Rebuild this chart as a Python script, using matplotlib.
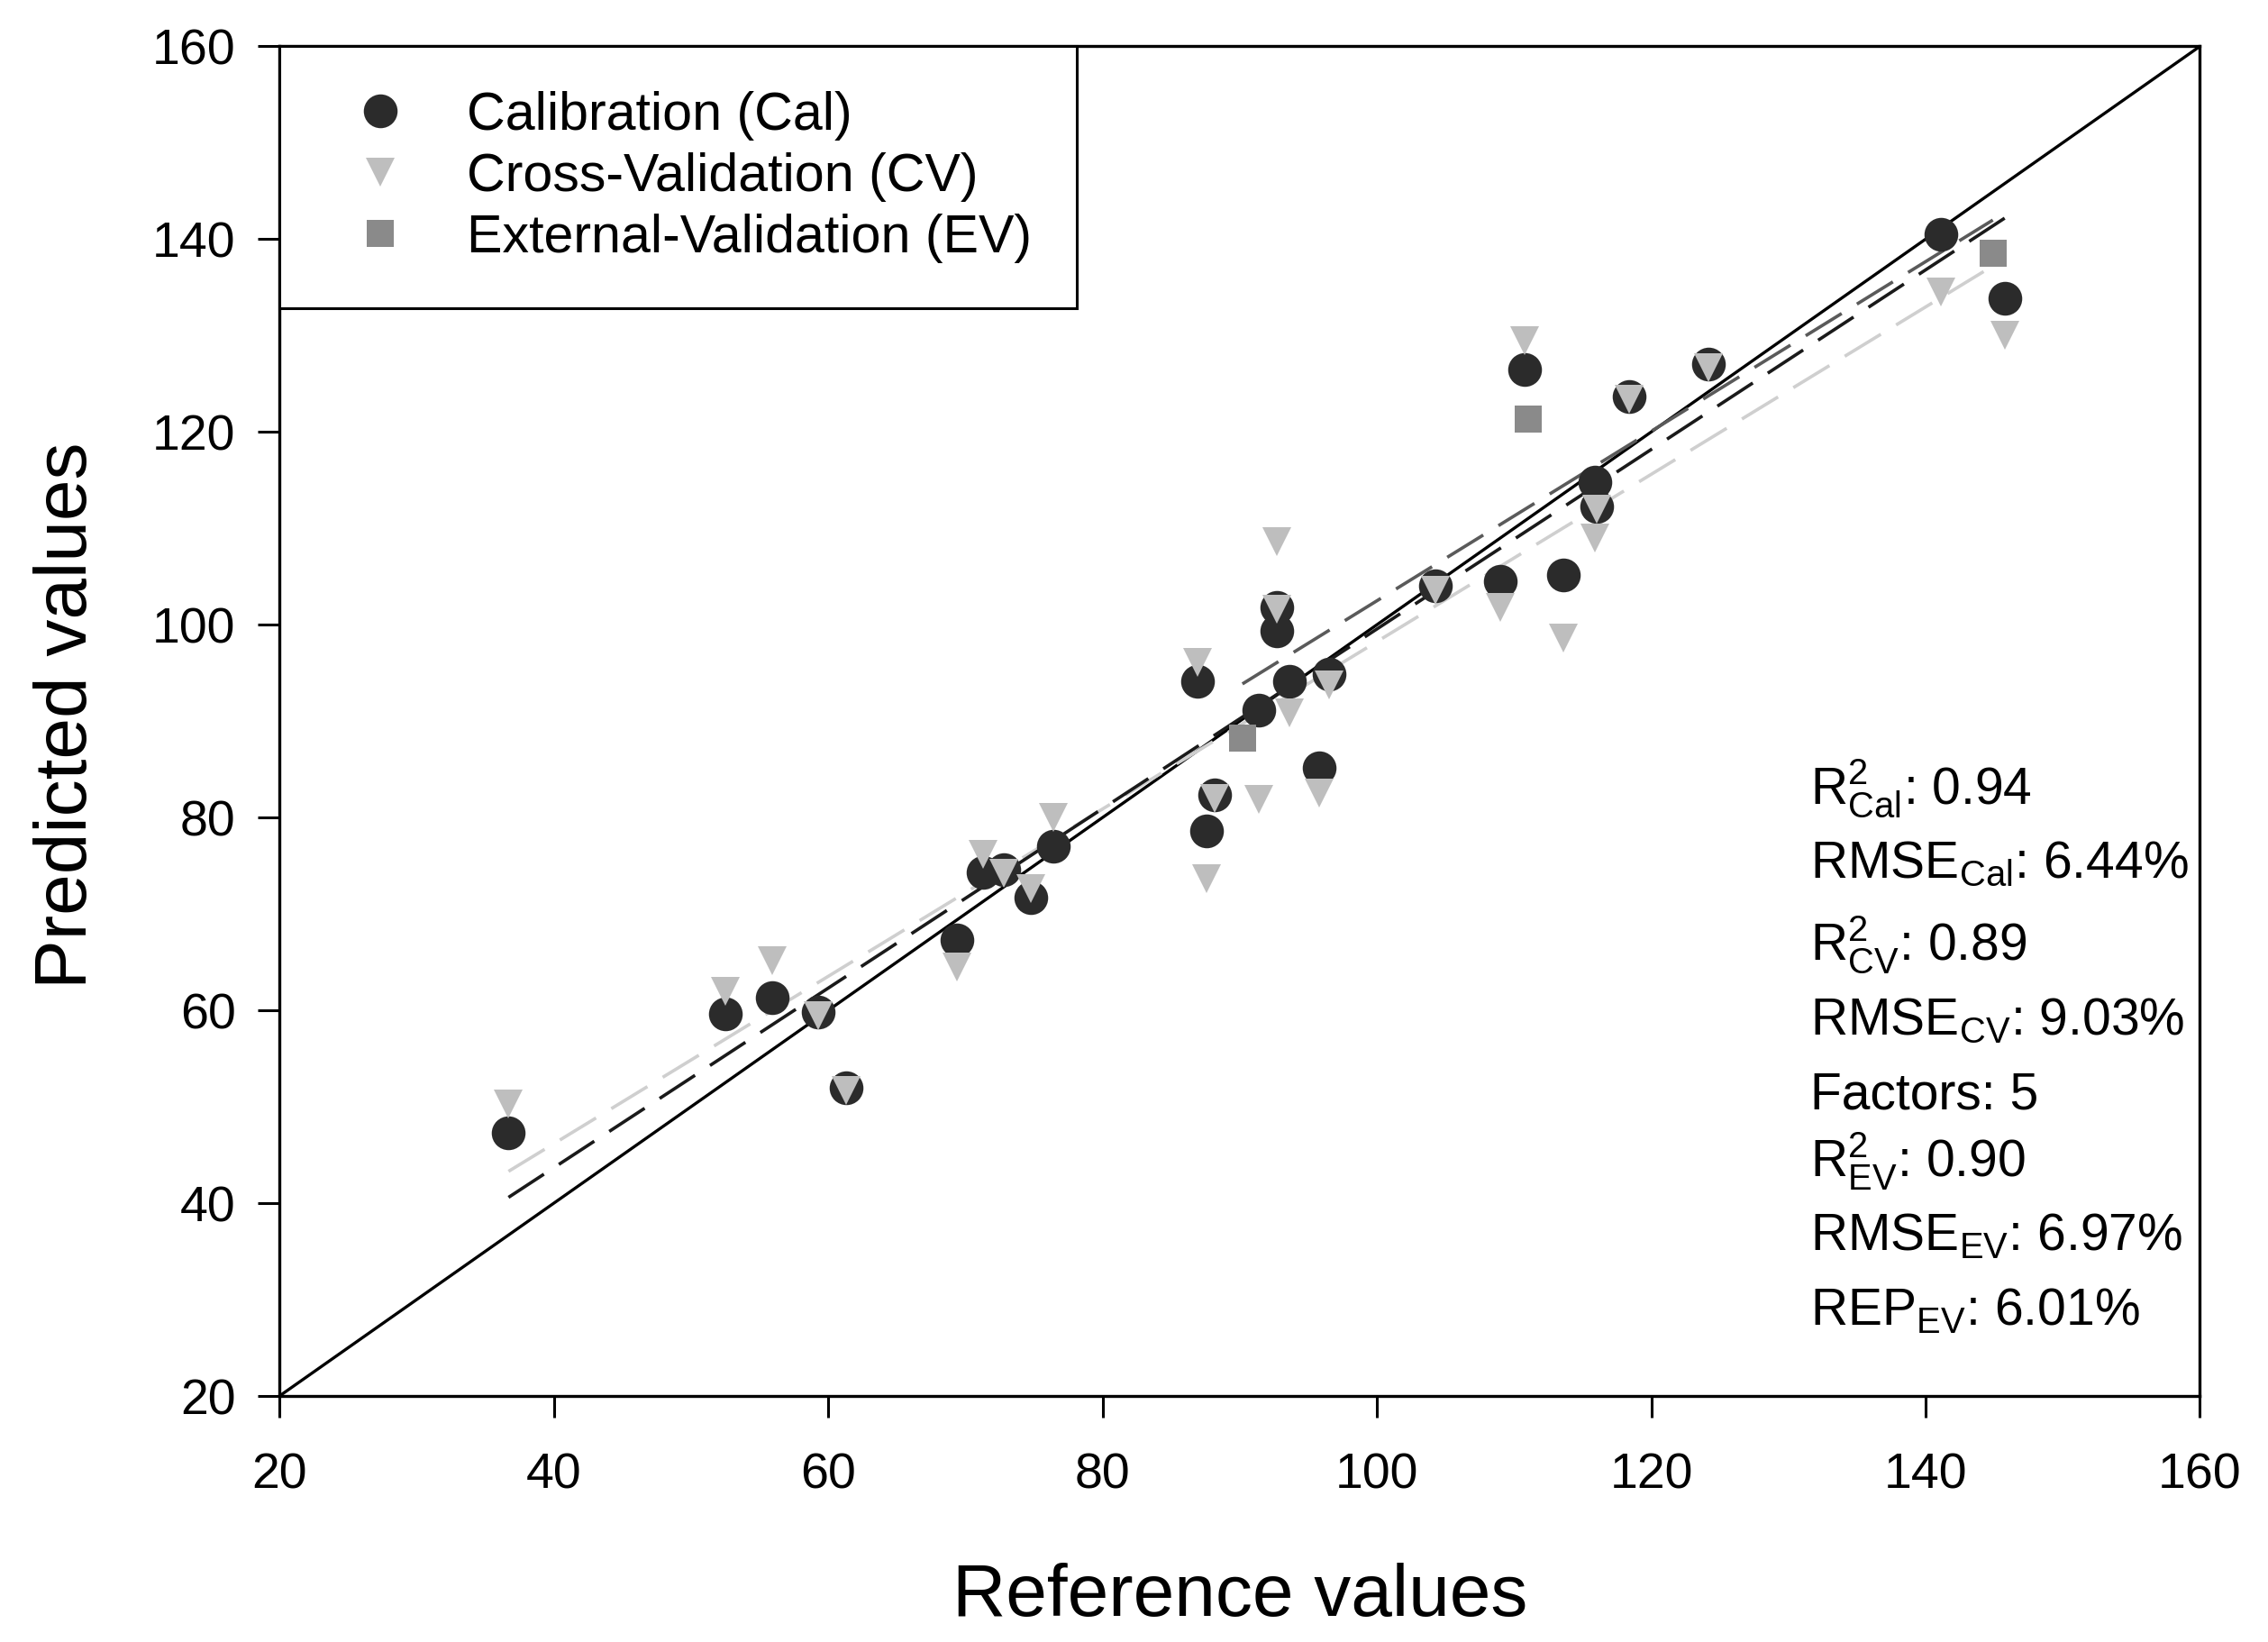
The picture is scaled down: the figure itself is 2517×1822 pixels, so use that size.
import numpy as np
import matplotlib
matplotlib.use("Agg")
from matplotlib import pyplot as plt

plt.rcParams['font.family'] = ['Liberation Sans', 'DejaVu Sans']
plt.rcParams['mathtext.fontset'] = 'custom'
plt.rcParams['mathtext.rm'] = 'Liberation Sans'

# calibration: reference / predicted
cal_ref = [36.7, 52.5, 55.9, 59.3, 61.3, 69.4, 71.3, 72.8, 74.8, 76.4,
           86.9, 87.6, 88.2, 91.4, 92.7, 92.7, 93.6, 95.8, 96.5, 104.3,
           109.0, 110.8, 113.6, 115.9, 116.0, 118.4, 124.2, 141.1, 145.8]
cal_pred = [47.3, 59.6, 61.3, 59.8, 52.0, 67.3, 74.3, 74.6, 71.7, 77.0,
            94.1, 78.6, 82.4, 91.1, 99.4, 101.8, 94.1, 85.2, 94.9, 104.0,
            104.5, 126.5, 105.2, 114.8, 112.3, 123.7, 127.0, 140.5, 133.9]
# cross-validation predictions (same reference values)
cv_pred = [50.3, 62.0, 65.2, 59.5, 51.7, 64.5, 76.2, 74.2, 72.6, 80.0,
           96.1, 73.7, 82.0, 81.9, 108.6, 101.6, 90.9, 82.5, 93.8, 103.6,
           101.8, 129.5, 98.6, 109.0, 112.0, 123.4, 126.7, 134.5, 130.0]
# external validation
ev_ref = [90.2, 111.0, 144.9]
ev_pred = [88.2, 121.3, 138.5]

ticks = [20, 40, 60, 80, 100, 120, 140, 160]

stats = [r'$\mathregular{R^2_{Cal}}$: 0.94',
         r'$\mathregular{RMSE_{Cal}}$: 6.44%',
         r'$\mathregular{R^2_{CV}}$: 0.89',
         r'$\mathregular{RMSE_{CV}}$: 9.03%',
         'Factors: 5',
         r'$\mathregular{R^2_{EV}}$: 0.90',
         r'$\mathregular{RMSE_{EV}}$: 6.97%',
         r'$\mathregular{REP_{EV}}$: 6.01%']
stats_y = [0.439, 0.384, 0.323, 0.268, 0.2125, 0.162, 0.108, 0.053]

fig = plt.figure(figsize=(12.585, 9.11), dpi=200)
ax = fig.add_axes([0.1232, 0.1498, 0.8468, 0.822])

cal_ref = np.array(cal_ref)
cal_pred = np.array(cal_pred)
cv_pred = np.array(cv_pred)
ev_ref = np.array(ev_ref)
ev_pred = np.array(ev_pred)

# 1:1 line
ax.plot([20, 160], [20, 160], color='black', lw=1.2, zorder=2)

# fitted lines
def fit_line(x, y, **kw):
    k, b = np.polyfit(x, y, 1)
    xs = np.array([x.min(), x.max()])
    ax.plot(xs, k * xs + b, **kw)

fit_line(cal_ref, cv_pred, color='#cfcfcf', lw=1.3, dashes=(13, 5.5), zorder=2)
fit_line(cal_ref, cal_pred, color='#1a1a1a', lw=1.3, dashes=(13, 5.5), zorder=2)
fit_line(ev_ref, ev_pred, color='#5a5a5a', lw=1.3, dashes=(13, 5.5), zorder=2)

ax.plot(cal_ref, cal_pred, 'o', color='#2b2b2b', ms=13.5, mew=0, ls='none',
        label='Calibration (Cal)', zorder=3)
ax.plot(cal_ref, cv_pred, 'v', color='#bebebe', ms=11.5, mew=0, ls='none',
        label='Cross-Validation (CV)', zorder=4)
ax.plot(ev_ref, ev_pred, 's', color='#8a8a8a', ms=11, mew=0, ls='none',
        label='External-Validation (EV)', zorder=5)

ax.set_xlim(20, 160)
ax.set_ylim(20, 160)
ax.set_xticks(ticks)
ax.set_yticks(ticks)
ax.tick_params(axis='both', direction='out', length=8.5, width=1.1,
               labelsize=20, color='black')
ax.tick_params(axis='x', pad=14)
ax.tick_params(axis='y', pad=9)
for s in ax.spines.values():
    s.set_linewidth(1.2)

ax.set_xlabel('Reference values', fontsize=29.5)
ax.set_ylabel('Predicted values', fontsize=29.5)
ax.xaxis.set_label_coords(0.5, -0.1233)
ax.yaxis.set_label_coords(-0.0925, 0.504)

leg = ax.legend(loc='upper left', bbox_to_anchor=(0, 1), borderaxespad=0,
                fontsize=21.3, frameon=True, fancybox=False, framealpha=1,
                edgecolor='black', borderpad=0.84, labelspacing=0.22,
                handlelength=2.1, handletextpad=0.58, numpoints=1)
leg.get_frame().set_linewidth(1.1)
leg.set_zorder(10)

for txt, yy in zip(stats, stats_y):
    ax.text(0.797, yy, txt, transform=ax.transAxes, fontsize=20.5,
            ha='left', va='baseline')

fig.savefig('out.png', dpi=200)
